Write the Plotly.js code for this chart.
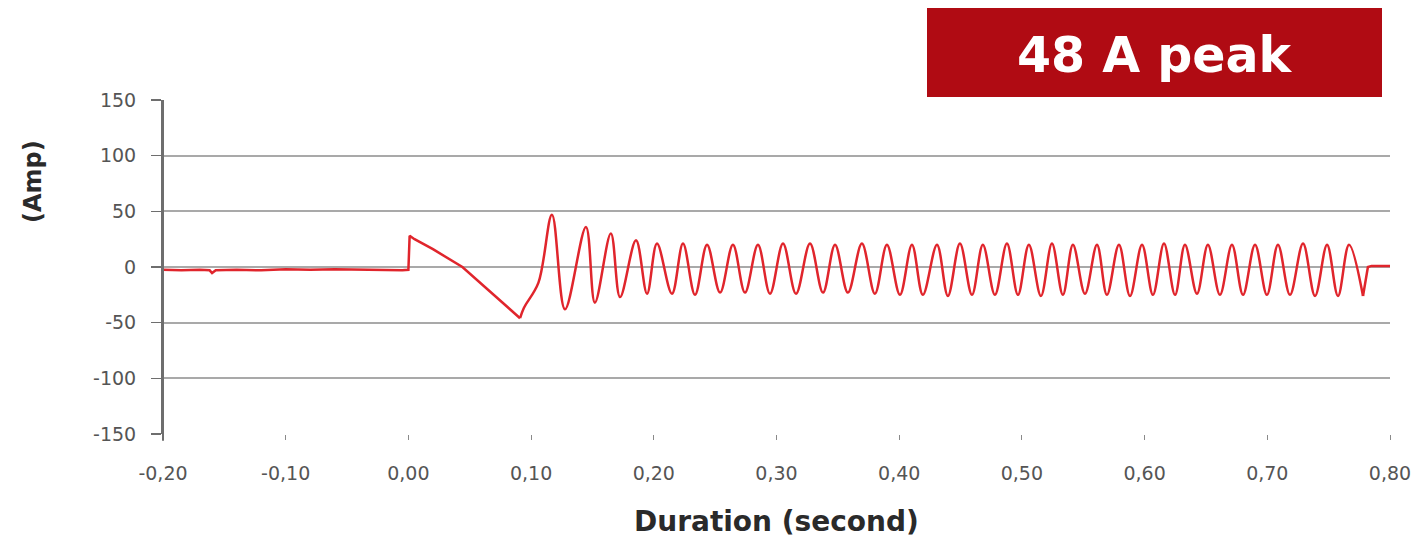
<!DOCTYPE html>
<html>
<head>
<meta charset="utf-8">
<script src="https://cdn.plot.ly/plotly-3.0.1.min.js"></script>
<style>html,body{margin:0;padding:0;background:#fff;}#chart{width:1423px;height:537px;}</style>
</head>
<body>
<div id="chart"></div>
<script>
// Pre-trigger baseline, step and linear ramp (seconds, amps)
const rampTime = [-0.200, -0.185, -0.170, -0.162, -0.160, -0.157, -0.140, -0.120, -0.100, -0.080, -0.060, -0.040, -0.020, -0.005, 0.000, 0.001, 0.005, 0.020, 0.044, 0.091];
const rampAmp  = [-2.5, -3.0, -2.5, -3.0, -5.5, -3.0, -2.5, -3.0, -2.0, -2.5, -2.0, -2.5, -3.0, -3.0, -2.5, 28, 25, 16, 0, -46];

// Oscillating part: turning points
const oscTime = [0.091, 0.094, 0.106, 0.117, 0.1276, 0.1447, 0.152, 0.165, 0.1725, 0.1855, 0.1945, 0.2026, 0.2148, 0.2238, 0.2336, 0.2434, 0.2540, 0.2645, 0.2743, 0.2849, 0.2947, 0.3053, 0.3159, 0.3273, 0.3379, 0.3477, 0.3582, 0.3696, 0.3802, 0.3900, 0.4006, 0.4104, 0.4193, 0.4308, 0.4397, 0.4495, 0.4593, 0.4682, 0.4780, 0.4878, 0.4968, 0.5057, 0.5155, 0.5245, 0.5334, 0.5416, 0.5514, 0.5612, 0.5693, 0.5791, 0.5881, 0.5979, 0.6068, 0.6158, 0.6248, 0.6329, 0.6427, 0.6516, 0.6614, 0.6712, 0.6802, 0.6900, 0.6997, 0.7087, 0.7185, 0.7291, 0.7389, 0.7487, 0.7576, 0.7666, 0.7780];
const oscAmp  = [-46, -37, -14, 47, -38, 36, -32, 30, -27, 24, -24, 21, -24, 21, -25, 20, -23, 20, -23, 20, -24, 21, -24, 21, -23, 20, -23, 21, -24, 20, -25, 20, -25, 20, -26, 21, -25, 20, -25, 21, -25, 20, -26, 21, -25, 20, -24, 20, -25, 20, -26, 20, -25, 21, -25, 20, -24, 20, -25, 20, -25, 20, -25, 20, -25, 21, -26, 20, -26, 20, -26];

// Tail after the event
const tailTime = [0.7780, 0.7820, 0.7850, 0.8000];
const tailAmp  = [-26, 0, 1, 1];

const xTickVals = [-0.2, -0.1, 0.0, 0.1, 0.2, 0.3, 0.4, 0.5, 0.6, 0.7, 0.8];
const xTickLabels = ["-0,20", "-0,10", "0,00", "0,10", "0,20", "0,30", "0,40", "0,50", "0,60", "0,70", "0,80"];
const yTickVals = [-150, -100, -50, 0, 50, 100, 150];
const yTickLabels = ["-150", "-100", "-50", "0", "50", "100", "150"];

const lineStyle = {color: '#e0252c', width: 2.5};
const traces = [
  {x: rampTime, y: rampAmp, type: 'scatter', mode: 'lines', line: lineStyle, hoverinfo: 'skip'},
  {x: oscTime, y: oscAmp, type: 'scatter', mode: 'lines', line: Object.assign({shape: 'spline', smoothing: 1}, lineStyle), hoverinfo: 'skip'},
  {x: tailTime, y: tailAmp, type: 'scatter', mode: 'lines', line: lineStyle, hoverinfo: 'skip'}
];

const tickFont = {family: 'DejaVu Sans, Verdana, sans-serif', size: 19, color: '#555555'};
const layout = {
  width: 1423, height: 537,
  margin: {l: 163, r: 33, t: 100, b: 103},
  paper_bgcolor: '#ffffff', plot_bgcolor: '#ffffff',
  showlegend: false,
  xaxis: {
    range: [-0.2, 0.8], tickvals: xTickVals, ticktext: xTickLabels,
    showgrid: false, zeroline: false, showline: false,
    ticks: 'outside', ticklen: 5, tickcolor: '#8a8a8a', tickwidth: 1,
    tickfont: tickFont, ticklabelstandoff: 17
  },
  yaxis: {
    range: [-150, 150], tickvals: yTickVals, ticktext: yTickLabels,
    showgrid: true, gridcolor: '#a9a9a9', gridwidth: 2,
    zeroline: false, showline: true, linecolor: '#6e6e6e', linewidth: 2,
    ticks: 'outside', ticklen: 10, tickcolor: '#6e6e6e', tickwidth: 1.5,
    tickfont: tickFont, ticklabelstandoff: 11
  },
  shapes: [
    {type: 'rect', xref: 'paper', yref: 'paper', x0: 0, x1: 0, y0: -0.02, y1: 1.0, line: {color: '#6e6e6e', width: 2}},
    {type: 'rect', xref: 'paper', yref: 'paper', x0: (927-163)/1227, x1: (1382-163)/1227, y0: (434-97)/334, y1: (434-8)/334, fillcolor: '#b00b13', line: {width: 0}, layer: 'above'}
  ],
  annotations: [
    {text: '48 A peak', xref: 'paper', yref: 'paper', x: (1155-163)/1227, y: (434-55)/334, showarrow: false, xanchor: 'center', yanchor: 'middle',
     font: {family: 'DejaVu Sans, Verdana, sans-serif', size: 49, color: '#ffffff', weight: 'bold'}},
    {text: '(Amp)', xref: 'paper', yref: 'paper', x: (33-163)/1227, y: (434-182)/334, showarrow: false, textangle: -90, xanchor: 'center', yanchor: 'middle',
     font: {family: 'DejaVu Sans, sans-serif', size: 24, color: '#2a2a2a', weight: 'bold'}},
    {text: 'Duration (second)', xref: 'paper', yref: 'paper', x: 0.5, y: (434-521)/334, showarrow: false, xanchor: 'center', yanchor: 'middle',
     font: {family: 'DejaVu Sans, sans-serif', size: 28, color: '#2a2a2a', weight: 'bold'}}
  ]
};
Plotly.newPlot('chart', traces, layout, {staticPlot: true, displayModeBar: false});
</script>
</body>
</html>
